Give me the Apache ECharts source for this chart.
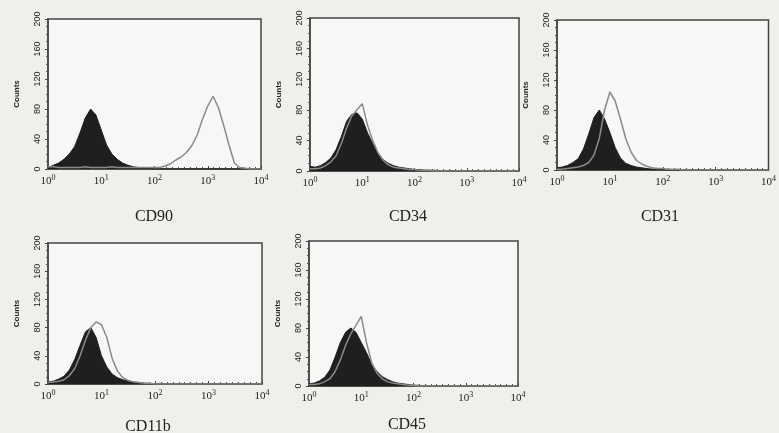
<!DOCTYPE html>
<html>
<head>
<meta charset="utf-8">
<script src="https://cdn.jsdelivr.net/npm/echarts@6/dist/echarts.min.js"></script>
<style>
  html, body { margin: 0; padding: 0; background: #efefec; }
  #chart { width: 779px; height: 433px; }
</style>
</head>
<body>
<div id="chart"></div>
<script>
// x position of each bin, in decades (10^0 .. 10^4)
const decades = [0, 0.1, 0.2, 0.3, 0.4, 0.5, 0.6, 0.7, 0.8, 0.9, 1.0, 1.1, 1.2, 1.3, 1.4, 1.5, 1.6, 1.7, 1.8, 1.9, 2.0,
  2.1, 2.2, 2.3, 2.4, 2.5, 2.6, 2.7, 2.8, 2.9, 3.0, 3.1, 3.2, 3.3, 3.4, 3.5, 3.6, 3.7, 3.8, 3.9, 4.0];
const xTicks = [0, 1, 2, 3, 4];
const yTicks = [0, 40, 80, 120, 160, 200];
const panelNames = ['CD90', 'CD34', 'CD31', 'CD11b', 'CD45'];

// isotype control (filled black) and stained (open outline) counts
const cd90Control = [2, 5, 8, 13, 20, 30, 48, 68, 80, 72, 52, 32, 20, 13, 8, 5, 3, 2, 1, 1, 0,
  0, 0, 0, 0, 0, 0, 0, 0, 0, 0, 0, 0, 0, 0, 0, 0, 0, 0, 0, 0];
const cd90Stained = [3, 3, 2, 2, 2, 2, 2, 3, 2, 2, 2, 2, 3, 2, 2, 2, 2, 2, 2, 2, 2,
  2, 4, 7, 12, 16, 22, 31, 45, 66, 84, 97, 82, 58, 32, 8, 2, 1, 0, 0, 0];

const cd34Control = [6, 5, 7, 11, 17, 28, 45, 65, 74, 76, 68, 50, 36, 24, 15, 10, 7, 5, 4, 3, 2,
  2, 1, 1, 1, 0, 0, 0, 0, 0, 0, 0, 0, 0, 0, 0, 0, 0, 0, 0, 0];
const cd34Stained = [3, 3, 4, 7, 12, 20, 36, 56, 72, 80, 88, 60, 40, 24, 14, 8, 5, 4, 3, 2, 2,
  1, 1, 1, 0, 0, 0, 0, 0, 0, 0, 0, 0, 0, 0, 0, 0, 0, 0, 0, 0];

const cd31Control = [3, 4, 6, 10, 15, 28, 48, 70, 80, 68, 50, 30, 16, 9, 6, 4, 3, 2, 1, 1, 1,
  0, 0, 0, 0, 0, 0, 0, 0, 0, 0, 0, 0, 0, 0, 0, 0, 0, 0, 0, 0];
const cd31Stained = [1, 1, 2, 3, 4, 6, 10, 20, 42, 80, 104, 92, 68, 42, 24, 13, 8, 5, 3, 2, 2,
  1, 1, 1, 0, 0, 0, 0, 0, 0, 0, 0, 0, 0, 0, 0, 0, 0, 0, 0, 0];

const cd11bControl = [3, 4, 7, 11, 20, 35, 55, 74, 80, 66, 40, 24, 14, 9, 6, 4, 3, 2, 1, 1, 0,
  0, 0, 0, 0, 0, 0, 0, 0, 0, 0, 0, 0, 0, 0, 0, 0, 0, 0, 0, 0];
const cd11bStained = [2, 3, 4, 6, 12, 22, 40, 62, 80, 88, 84, 66, 36, 18, 9, 5, 3, 2, 1, 1, 0,
  0, 0, 0, 0, 0, 0, 0, 0, 0, 0, 0, 0, 0, 0, 0, 0, 0, 0, 0, 0];

const cd45Control = [3, 4, 7, 12, 22, 40, 60, 74, 80, 74, 60, 46, 30, 20, 13, 9, 6, 4, 3, 2, 1,
  1, 0, 0, 0, 0, 0, 0, 0, 0, 0, 0, 0, 0, 0, 0, 0, 0, 0, 0, 0];
const cd45Stained = [2, 2, 3, 6, 10, 20, 36, 56, 72, 84, 96, 60, 32, 18, 10, 6, 4, 3, 2, 1, 1,
  0, 0, 0, 0, 0, 0, 0, 0, 0, 0, 0, 0, 0, 0, 0, 0, 0, 0, 0, 0];

const controls = [cd90Control, cd34Control, cd31Control, cd11bControl, cd45Control];
const stained = [cd90Stained, cd34Stained, cd31Stained, cd11bStained, cd45Stained];

const COLORS = {
  FILL: '#1f1f1f',
  OUTLINE: '#8a8a8a',
  FRAME: '#444444',
  TEXT: '#222222',
  PLOT_BG: '#f7f7f5'
};

// grid boxes and caption positions (pixels)
const grids = [
  { left: 48, top: 19, width: 213, height: 150 },
  { left: 310, top: 18, width: 209, height: 153 },
  { left: 557, top: 20, width: 213, height: 150 },
  { left: 48, top: 243, width: 214, height: 141 },
  { left: 309, top: 241, width: 209, height: 145 }
];
const captions = [
  { x: 149, y: 204 }, { x: 403, y: 204 }, { x: 655, y: 204 },
  { x: 143, y: 414 }, { x: 402, y: 412 }
];

const pairs = (ys) => decades.map((d, i) => [d, ys[i]]);

const option = {
  animation: false,
  backgroundColor: '#efefec',
  title: panelNames.map((name, i) => ({
    text: name,
    left: captions[i].x,
    top: captions[i].y,
    textAlign: 'center',
    textStyle: { fontFamily: 'Liberation Serif', fontSize: 16, fontWeight: 'normal', color: COLORS.TEXT }
  })),
  grid: grids.map(g => ({
    ...g,
    show: true,
    backgroundColor: COLORS.PLOT_BG,
    borderColor: COLORS.FRAME,
    borderWidth: 1.5
  })),
  xAxis: grids.map((g, i) => ({
    type: 'value',
    gridIndex: i,
    min: 0,
    max: 4,
    interval: 1,
    splitLine: { show: false },
    axisLine: { lineStyle: { color: COLORS.FRAME, width: 1.5 } },
    axisTick: { inside: true, length: 3, lineStyle: { color: COLORS.FRAME } },
    minorTick: { show: true, splitNumber: 9, length: 2, lineStyle: { color: '#555' } },
    axisLabel: {
      margin: 5,
      formatter: (v) => xTicks.includes(v) ? '{b|10}{s|' + v + '}' : '',
      rich: {
        b: { fontFamily: 'Liberation Serif', fontSize: 11, color: COLORS.TEXT },
        s: { fontFamily: 'Liberation Serif', fontSize: 8, color: COLORS.TEXT, padding: [0, 0, 7, 0] }
      }
    }
  })),
  yAxis: grids.map((g, i) => ({
    type: 'value',
    gridIndex: i,
    min: 0,
    max: 200,
    interval: 40,
    name: 'Counts',
    nameLocation: 'middle',
    nameGap: 27,
    nameRotate: 90,
    nameTextStyle: { fontFamily: 'Liberation Sans', fontSize: 8, fontWeight: 'bold', color: COLORS.TEXT },
    splitLine: { show: false },
    axisLine: { show: true, lineStyle: { color: COLORS.FRAME, width: 1.5 } },
    axisTick: { show: true, length: 3, lineStyle: { color: COLORS.FRAME } },
    minorTick: { show: true, splitNumber: 4, length: 2, lineStyle: { color: '#555' } },
    axisLabel: {
      rotate: 90,
      margin: 6,
      fontFamily: 'Liberation Sans',
      fontSize: 9,
      color: COLORS.TEXT,
      formatter: (v) => yTicks.includes(v) ? String(v) : ''
    }
  })),
  series: [
    ...controls.map((ys, i) => ({
      type: 'line',
      xAxisIndex: i,
      yAxisIndex: i,
      data: pairs(ys),
      symbol: 'none',
      lineStyle: { color: COLORS.FILL, width: 1 },
      areaStyle: { color: COLORS.FILL, opacity: 1 },
      z: 2
    })),
    ...stained.map((ys, i) => ({
      type: 'line',
      xAxisIndex: i,
      yAxisIndex: i,
      data: pairs(ys),
      symbol: 'none',
      lineStyle: { color: COLORS.OUTLINE, width: 1.5 },
      z: 3
    }))
  ]
};

const myChart = echarts.init(document.getElementById('chart'), null, { renderer: 'canvas' });
myChart.setOption(option);
</script>
</body>
</html>
